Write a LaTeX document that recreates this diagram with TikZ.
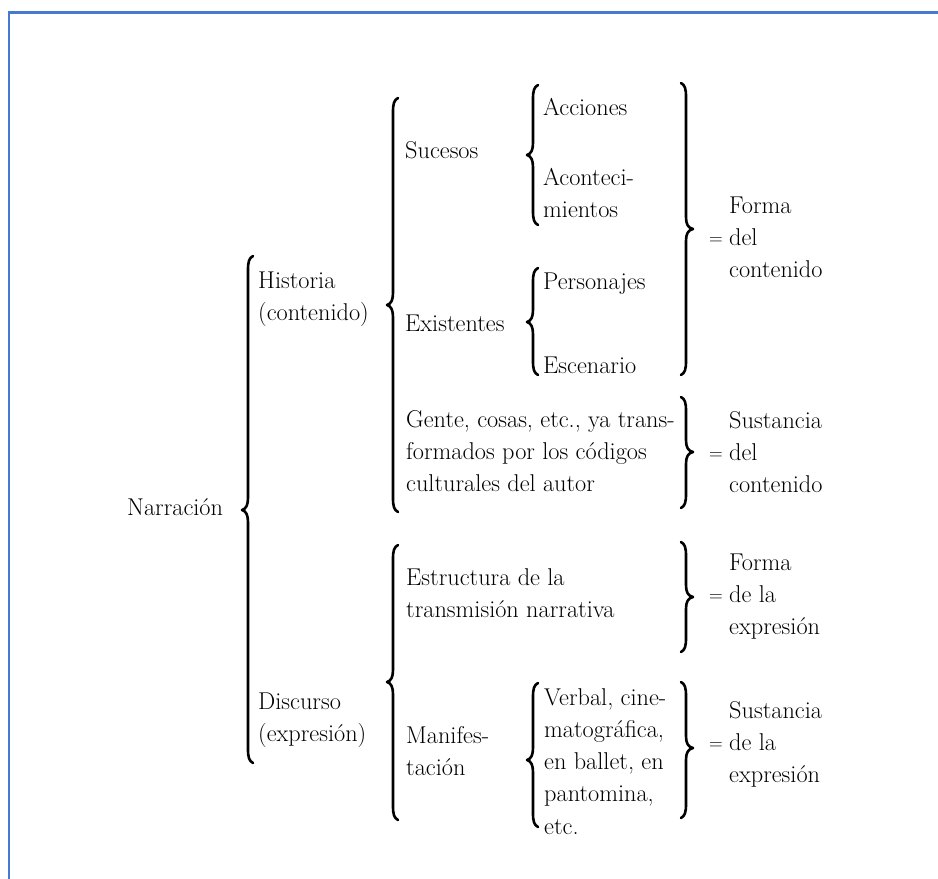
\documentclass[tikz,border=0pt]{standalone}
\definecolor{framecol}{RGB}{70,122,210}
\tikzset{
  txt/.style={anchor=base west, inner sep=0pt, font=\fontsize{24.3}{32}\selectfont},
  eq/.style={anchor=base, inner sep=0pt, font=\fontsize{19}{32}\selectfont},
  brc/.style={line width=2.6pt, line cap=round, line join=round},
  frameline/.style={draw=framecol, line width=2.6pt}
}
% left brace: x of bar, top, middle (cusp), bottom
\newcommand{\LBr}[4]{%
  \draw[brc] ({#1+5},#2) .. controls ({#1+1},{#2+2}) and (#1,{#2+6}) .. (#1,{#2+14})
    -- (#1,{#3-12}) .. controls (#1,{#3-5}) and ({#1-2},{#3-1}) .. ({#1-6},#3)
    .. controls ({#1-2},{#3+1}) and (#1,{#3+5}) .. (#1,{#3+12})
    -- (#1,{#4-14}) .. controls (#1,{#4-6}) and ({#1+1},{#4-2}) .. ({#1+5},#4);}
% right brace
\newcommand{\RBr}[4]{%
  \draw[brc] ({#1-5},#2) .. controls ({#1-1},{#2+2}) and (#1,{#2+6}) .. (#1,{#2+14})
    -- (#1,{#3-12}) .. controls (#1,{#3-5}) and ({#1+2},{#3-1}) .. ({#1+7},#3)
    .. controls ({#1+2},{#3+1}) and (#1,{#3+5}) .. (#1,{#3+12})
    -- (#1,{#4-14}) .. controls (#1,{#4-6}) and ({#1-1},{#4-2}) .. ({#1-5},#4);}
\begin{document}
\begin{tikzpicture}[x=1pt,y=-1pt]
\useasboundingbox (0,0) rectangle (938,879);
\fill[white] (0,0) rectangle (938,879);
% frame (top and left edges)
\coordinate (fb) at (9,879);
\coordinate (fc) at (9,12.5);
\coordinate (fr) at (938,12.5);
\draw[frameline] (fb) -- (fc) -- (fr);

% level 1
\node[txt] (narr) at (127,515) {Narración};
\LBr{248}{256}{510}{763}

% level 2
\node[txt] (hist1) at (258,288) {Historia};
\node[txt] (hist2) at (258,320) {(contenido)};
\node[txt] (disc1) at (258,709) {Discurso};
\node[txt] (disc2) at (258,741) {(expresión)};
\LBr{393}{98}{305}{512}
\LBr{393}{545}{682}{820}

% level 3
\node[txt] (suc) at (405,158) {Sucesos};
\node[txt] (exi) at (405,331) {Existentes};
\node[txt] (gen1) at (406,427) {Gente, cosas, etc., ya trans-};
\node[txt] (gen2) at (406,459) {formados por los códigos};
\node[txt] (gen3) at (406,491) {culturales del autor};
\node[txt] (est1) at (406,585) {Estructura de la};
\node[txt] (est2) at (406,617) {transmisión narrativa};
\node[txt] (man1) at (406,743) {Manifes-};
\node[txt] (man2) at (406,775) {tación};
\LBr{533}{85}{155}{225}
\LBr{533}{268}{322}{375}
\LBr{533}{683}{760}{827}

% level 4
\node[txt] (acc) at (543,115) {Acciones};
\node[txt] (aco1) at (543,185) {Aconteci-};
\node[txt] (aco2) at (543,217) {mientos};
\node[txt] (per) at (543,289) {Personajes};
\node[txt] (esc) at (543,373) {Escenario};
\node[txt] (ver1) at (544,705) {Verbal, cine-};
\node[txt] (ver2) at (544,737) {matográfica,};
\node[txt] (ver3) at (544,769) {en ballet, en};
\node[txt] (ver4) at (544,801) {pantomina,};
\node[txt] (ver5) at (544,834) {etc.};

% right braces
\RBr{686}{83}{229}{375}
\RBr{686}{397}{452}{508}
\RBr{686}{542}{597}{652}
\RBr{686}{682}{748}{818}

% right column
\node[eq] (eqA) at (716,244) {=};
\node[txt] (fc1) at (729,213) {Forma};
\node[txt] (fc2) at (729,245) {del};
\node[txt] (fc3) at (729,277) {contenido};

\node[eq] (eqB) at (716,459) {=};
\node[txt] (sc1) at (729,428) {Sustancia};
\node[txt] (sc2) at (729,460) {del};
\node[txt] (sc3) at (729,492) {contenido};

\node[eq] (eqC) at (716,601) {=};
\node[txt] (fe1) at (729,570) {Forma};
\node[txt] (fe2) at (729,602) {de la};
\node[txt] (fe3) at (729,634) {expresión};

\node[eq] (eqD) at (716,749) {=};
\node[txt] (se1) at (729,718) {Sustancia};
\node[txt] (se2) at (729,750) {de la};
\node[txt] (se3) at (729,782) {expresión};
\end{tikzpicture}
\end{document}
